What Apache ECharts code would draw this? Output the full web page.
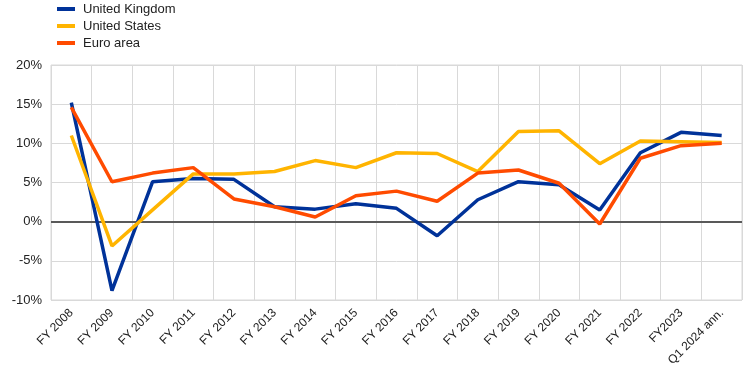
<!DOCTYPE html>
<html><head><meta charset="utf-8">
<script src="https://cdn.jsdelivr.net/npm/echarts@6/dist/echarts.min.js"></script>
<style>html,body{margin:0;padding:0;background:#fff}#c{width:746px;height:373px}</style>
</head><body><div id="c"></div>
<script>
const categories = ['FY 2008','FY 2009','FY 2010','FY 2011','FY 2012','FY 2013','FY 2014','FY 2015','FY 2016','FY 2017','FY 2018','FY 2019','FY 2020','FY 2021','FY 2022','FY2023','Q1 2024 ann.'];
const ukValues = [15.2,-8.8,5.1,5.5,5.4,1.9,1.6,2.3,1.7,-1.8,2.8,5.1,4.7,1.5,8.8,11.4,11.0];
const usValues = [11.0,-3.1,1.5,6.1,6.1,6.4,7.8,6.9,8.8,8.7,6.4,11.5,11.6,7.4,10.3,10.2,10.1];
const euroValues = [14.6,5.1,6.2,6.9,2.9,1.9,0.6,3.3,3.9,2.6,6.2,6.6,4.9,-0.3,8.1,9.7,10.0];
const yTicks = {min:-10, max:20, interval:5};

const font = 'Liberation Sans, Arial, sans-serif';
const chart = echarts.init(document.getElementById('c'));
function line(name, data, color){
  return {name, type:'line', data, symbol:'none', smooth:false, color,
    lineStyle:{width:3.5, color}, z:3};
}
chart.setOption({
  animation:false,
  textStyle:{fontFamily:font},
  legend:{left:52, top:-3, orient:'vertical', icon:'rect', itemWidth:18, itemHeight:4, itemGap:3,
    textStyle:{fontFamily:font, fontSize:13, color:'#222', lineHeight:14, padding:[0,0,0,3]},
    data:['United Kingdom','United States','Euro area']},
  grid:{left:51, right:4, top:65, bottom:73, show:true, borderColor:'#d9d9d9', borderWidth:1},
  xAxis:{type:'category', data:categories, boundaryGap:true,
    axisLine:{show:false}, axisTick:{show:false},
    splitLine:{show:true, lineStyle:{color:'#d9d9d9', width:1}},
    axisLabel:{rotate:45, fontFamily:font, fontSize:12, color:'#222', margin:11, interval:0}},
  yAxis:{type:'value', min:yTicks.min, max:yTicks.max, interval:yTicks.interval,
    axisLine:{show:false}, axisTick:{show:false},
    splitLine:{lineStyle:{color:'#d9d9d9', width:1}},
    axisLabel:{formatter:'{value}%', fontFamily:font, fontSize:13, color:'#222', margin:9}},
  series:[
    {type:'line', data:[], z:1, silent:true,
      markLine:{silent:true, symbol:'none', label:{show:false}, z:1,
        lineStyle:{color:'#595959', width:2, type:'solid'}, data:[{yAxis:0}]}},
    line('United Kingdom', ukValues, '#003299'), line('United States', usValues, '#ffb400'), line('Euro area', euroValues, '#ff4b00')]
});
</script></body></html>
